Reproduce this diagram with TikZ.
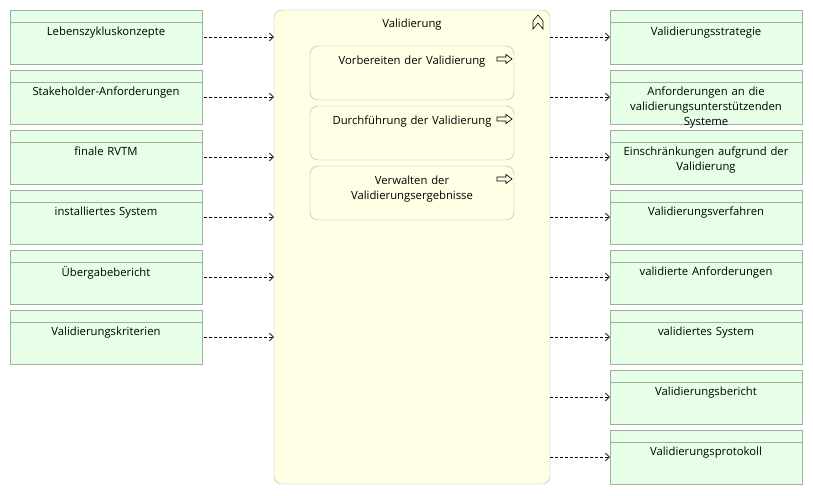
\documentclass[tikz,border=0pt]{standalone}
\usepackage{fontspec}
\setmainfont{Open Sans}
\usetikzlibrary{arrows.meta,positioning}
\definecolor{artgruen}{HTML}{E6FFE6}
\definecolor{artrand}{HTML}{9DB09D}
\definecolor{aktgelb}{HTML}{FFFFE6}
\definecolor{aktrand}{HTML}{B4B4A0}
\tikzset{
	artefakt/.style={draw=artrand, fill=artgruen, minimum width=192pt, minimum height=54pt, inner sep=0pt,
		path picture={\draw[artrand] ([yshift=-12pt]path picture bounding box.north west) -- ([yshift=-12pt]path picture bounding box.north east);}},
	aktivitaet/.style={draw=aktrand, fill=aktgelb, rounded corners=8pt, minimum width=204pt, minimum height=54pt, inner sep=0pt},
	beschriftung/.style={text width=190pt, align=center, inner sep=0pt},
	fluss/.style={->, densely dashed, line width=0.6pt},
}
\begin{document}
\begin{tikzpicture}[x=1pt, y=-1pt, font=\fontsize{11.3}{15.2}\selectfont, >={Straight Barb[length=4pt,width=8pt]}]
	\useasboundingbox (0,0) rectangle (813,495);
	
	% Hauptprozess
	\node[draw=aktrand, fill=aktgelb, rounded corners=8pt, minimum width=276pt, minimum height=474pt] (haupt) at (412,247) {};
	\node[below=6pt of haupt.north] (titel) {Validierung};
	\draw[line width=0.6pt] (533,29) -- (533,21) -- (538,15) -- (543,21) -- (543,29) -- (538,23) -- cycle;
	
	% Teilprozesse
	\foreach \bez [count=\i] in {Vorbereiten der Validierung, Durchführung der Validierung, {Verwalten der\\Validierungsergebnisse}} {
		\node[aktivitaet] (a\i) at (412,{73+60*(\i-1)}) {};
		\node[beschriftung, below=9.5pt of a\i.north] (at\i) {\bez};
		\draw[line width=0.6pt, shift={(497,{59+60*(\i-1)})}] (0,-2) -- (9,-2) -- (9,-4.5) -- (15,0) -- (9,4.5) -- (9,2) -- (0,2) -- cycle;
	}
	
	% Eingaben
	\foreach \bez [count=\i] in {Lebenszykluskonzepte, Stakeholder-Anforderungen, finale RVTM, installiertes System, Übergabebericht, Validierungskriterien} {
		\node[artefakt] (l\i) at (106,{37+60*(\i-1)}) {};
		\node[beschriftung, below=16.5pt of l\i.north] (lt\i) {\bez};
		\draw[fluss] ([xshift=2pt]l\i.east) -- (l\i.east -| haupt.west);
	}
	
	% Ausgaben
	\foreach \bez [count=\i] in {Validierungsstrategie, {Anforderungen an die\\validierungsunterstützenden\\Systeme}, {Einschränkungen aufgrund der\\Validierung}, Validierungsverfahren, validierte Anforderungen, validiertes System, Validierungsbericht, Validierungsprotokoll} {
		\node[artefakt] (r\i) at (706,{37+60*(\i-1)}) {};
		\node[beschriftung, below=16.5pt of r\i.north] (rt\i) {\bez};
		\draw[fluss] (r\i.west -| haupt.east) -- (r\i.west);
	}
	
\end{tikzpicture}
\end{document}
